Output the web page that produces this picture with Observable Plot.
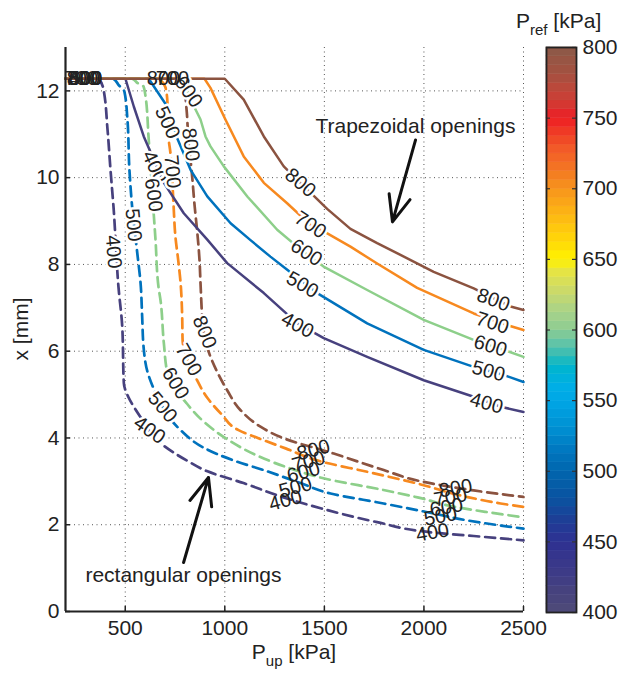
<!DOCTYPE html>
<html>
<head>
<meta charset="utf-8">
<script src="https://cdn.jsdelivr.net/npm/d3@7"></script>
<script src="https://cdn.jsdelivr.net/npm/@observablehq/plot@0.6"></script>
<style>
  body { margin: 0; background: #fff; }
  #wrap { position: relative; width: 620px; height: 675px; font-family: "Liberation Sans", Arial, Helvetica, sans-serif; color: #222; }
  .abs { position: absolute; white-space: nowrap; line-height: 1; }
</style>
</head>
<body>
<div id="wrap">
  <div id="main" class="abs" style="left:0;top:0"></div>
  <div id="cbar" class="abs" style="left:530px;top:0"></div>
  <div class="abs" style="left:0;top:641px;width:588px;text-align:center;font-size:21px;">P<span style="font-size:15px;position:relative;top:7px">up</span> [kPa]</div>
  <div class="abs" style="left:20px;top:329px;font-size:21px;transform:translate(-50%,-50%) rotate(-90deg);">x [mm]</div>
  <div class="abs" style="left:516px;top:10px;font-size:21px;">P<span style="font-size:15px;position:relative;top:7px">ref</span> [kPa]</div>
</div>
<script>
// ---- axes / ticks ----
const xDomain = [200, 2500];
const yDomain = [0, 13];
const xTicks = [500, 1000, 1500, 2000, 2500];
const yTicks = [0, 2, 4, 6, 8, 10, 12];
const cbTicks = [400, 450, 500, 550, 600, 650, 700, 750, 800];

// ---- levels (P_ref) ----
const levels = [400, 500, 600, 700, 800];
const levelColors = ["#47417e", "#0072bd", "#8dcf8a", "#f7891f", "#8b5340"];

// ---- trapezoidal openings (solid) : [P_up, x] ----
const trap400 = [[200,12.28],[501,12.28],[543,11.64],[593,10.95],[694,9.88],[794,9.18],[912,8.57],[1012,8.03],[1196,7.34],[1364,6.64],[1497,6.30],[1715,5.87],[1999,5.33],[2250,4.95],[2385,4.72],[2500,4.60]];
const trap500 = [[200,12.28],[618,12.28],[711,11.64],[761,10.91],[828,10.18],[912,9.57],[1029,8.95],[1129,8.56],[1229,8.18],[1315,7.87],[1464,7.34],[1715,6.64],[1999,6.03],[2250,5.64],[2401,5.45],[2500,5.29]];
const trap600 = [[200,12.28],[788,12.28],[828,11.80],[878,11.34],[903,10.95],[928,10.72],[995,10.26],[1114,9.56],[1263,8.80],[1395,8.29],[1496,7.95],[1715,7.41],[1999,6.72],[2249,6.26],[2400,6.03],[2500,5.87]];
const trap700 = [[200,12.28],[898,12.28],[928,12.07],[1003,11.34],[1095,10.49],[1196,9.88],[1313,9.41],[1430,8.91],[1497,8.76],[1631,8.41],[1765,8.02],[1966,7.46],[2250,6.87],[2418,6.60],[2500,6.49]];
const trap800 = [[200,12.28],[1000,12.28],[1095,11.80],[1196,10.95],[1296,10.26],[1380,9.88],[1514,9.28],[1631,8.82],[1765,8.49],[1882,8.22],[2049,7.83],[2250,7.45],[2435,7.03],[2500,6.95]];

// ---- rectangular openings (dashed) ----
const rect400 = [[200,12.28],[366,12.28],[391,12.03],[411,11.11],[426,10.18],[441,9.33],[466,7.48],[485,6.56],[493,5.26],[515,4.95],[543,4.72],[577,4.48],[677,3.88],[813,3.47],[913,3.23],[1094,2.96],[1295,2.63],[1481,2.38],[1765,2.06],[2048,1.82],[2250,1.74],[2500,1.64]];
const rect500 = [[200,12.28],[441,12.28],[466,12.14],[496,11.98],[511,11.34],[521,10.18],[536,9.26],[562,8.20],[577,7.57],[585,6.80],[592,6.10],[612,5.52],[637,5.20],[677,4.80],[778,4.18],[888,3.79],[1039,3.49],[1214,3.23],[1380,2.96],[1531,2.72],[1797,2.49],[2048,2.26],[2217,2.10],[2500,1.91]];
const rect600 = [[200,12.28],[536,12.28],[562,12.18],[592,12.10],[602,11.87],[617,10.94],[637,9.56],[652,8.57],[667,7.48],[677,7.18],[694,6.18],[712,5.50],[808,4.80],[903,4.34],[1019,3.95],[1169,3.58],[1340,3.28],[1496,3.07],[1797,2.80],[1968,2.63],[2169,2.40],[2319,2.29],[2500,2.17]];
const rect700 = [[200,12.28],[667,12.28],[702,12.08],[712,11.73],[717,10.94],[727,10.57],[742,9.42],[752,8.64],[767,8.06],[778,7.57],[786,6.79],[788,6.26],[813,5.80],[853,5.40],[913,4.92],[983,4.55],[1069,4.18],[1154,4.02],[1305,3.76],[1481,3.46],[1715,3.22],[1966,2.95],[2217,2.64],[2385,2.49],[2500,2.41]];
const rect800 = [[200,12.28],[777,12.28],[798,11.98],[808,11.57],[818,10.81],[833,10.18],[848,9.37],[863,8.68],[873,8.10],[878,7.57],[893,6.49],[913,6.07],[962,5.52],[1012,5.10],[1079,4.64],[1179,4.26],[1280,4.02],[1547,3.64],[1798,3.26],[1966,3.02],[2250,2.79],[2500,2.64]];

// ---- contour labels [value, P_up, x, angle] ----
const isoLabels = [
  [800,1380,9.88,40],[800,2349,7.18,20],
  [700,1430,8.91,33],[700,2344,6.65,18],
  [600,1410,8.27,33],[600,2334,6.12,17],[600,818,11.98,55],
  [500,1390,7.53,30],[500,2324,5.54,15],[500,712,11.27,65],
  [400,1365,6.60,28],[400,2314,4.80,15],[400,647,10.25,65],
  [400,441,8.29,85],[400,622,4.18,35],
  [500,541,8.91,85],[500,687,4.71,50],
  [600,642,9.60,82],[600,752,5.26,58],
  [700,737,10.14,85],[700,818,5.80,60],
  [800,828,10.76,82],[800,898,6.44,68]
];
const clusterLabels = [
  [700,280,12.28,0],[500,300,12.28,0],[600,300,12.28,0],[400,300,12.28,0],[800,290,12.28,0],
  [800,692,12.28,0],[700,737,12.28,0],
  [800,1445,3.72,-15],[700,1420,3.46,-15],[600,1395,3.21,-15],[500,1355,2.86,-15],[400,1305,2.56,-15],
  [800,2159,2.84,-10],[700,2133,2.63,-10],[600,2113,2.40,-10],[500,2083,2.19,-10],[400,2043,1.82,-10]
];

// ---- annotations ----
const notes = [["Trapezoidal openings", 1455, 11.18], ["rectangular openings", 300, 0.83]];
const arrows = [[1958, 10.87, 1842, 8.98], [793, 1.13, 918, 3.09]];

// ---- colour bar colormap ----
const cbStops  = [400,415,430,450,465,480,500,515,530,550,560,575,580,590,600,612,625,640,650,665,680,700,711,728,739,750,758,769,781,800];
const cbColors = ["#4f4b78","#46427e","#3c3a88","#2e3192","#1e3e96","#0a52a0","#0066ae","#0078c0","#0090d2","#00a6e6","#00aee6","#00b6cc","#2bbab8","#5ec3a8","#8dcc92","#a6d38a","#c6d870","#e3e34a","#fff200","#ffd40a","#fdb913","#f7941d","#f47b22","#f25a28","#ef3e25","#ed1c24","#d83530","#c0473a","#a55040","#8b5a48"];

// ---- build tables ----
const trapSeries = [trap400, trap500, trap600, trap700, trap800];
const rectSeries = [rect400, rect500, rect600, rect700, rect800];
const colorOf = v => levelColors[levels.indexOf(v)];
const toRows = (arr, kind) => arr.flatMap((pts, i) => pts.map(([p, x]) => ({p, x, level: levels[i], kind})));
const rectRows = toRows(rectSeries, "rect");
const trapRows = toRows(trapSeries, "trap");
const lab = arr => arr.map(([v, p, x, a]) => ({text: String(v), p, x, a}));

const font = '"Liberation Sans", Arial, Helvetica, sans-serif';
const W = 540, H = 675, mL = 65, mR = 17, mT = 47, mB = 64;
const innerW = W - mL - mR, innerH = H - mT - mB;

const marks = [
  Plot.gridX(xTicks, {stroke: "#555", strokeOpacity: 1, strokeDasharray: "1,3.5", strokeWidth: 1}),
  Plot.gridY(yTicks.filter(d => d > 0), {stroke: "#555", strokeOpacity: 1, strokeDasharray: "1,3.5", strokeWidth: 1}),
];
levels.forEach(v => {
  marks.push(Plot.line(rectRows.filter(d => d.level === v), {x: "p", y: "x", stroke: colorOf(v), strokeWidth: 2.7, strokeDasharray: "10,6", curve: "monotone-y"}));
});
levels.forEach(v => {
  marks.push(Plot.line(trapRows.filter(d => d.level === v), {x: "p", y: "x", stroke: colorOf(v), strokeWidth: 2.5, curve: "linear"}));
});
marks.push(
  Plot.text(lab(isoLabels), {x: "p", y: "x", text: "text", rotate: "a", fontSize: 20, fill: "#222", stroke: "white", strokeWidth: 5, paintOrder: "stroke"}),
  Plot.text(lab(clusterLabels), {x: "p", y: "x", text: "text", rotate: "a", fontSize: 20, fill: "#222"}),
  Plot.text(notes, {x: d => d[1], y: d => d[2], text: d => d[0], textAnchor: "start", fontSize: 21, fill: "#222"}),
  Plot.arrow(arrows, {x1: d => d[0], y1: d => d[1], x2: d => d[2], y2: d => d[3], stroke: "#111", strokeWidth: 3, headLength: 16, headAngle: 45}),
  Plot.tickX(xTicks, {x: d => d, stroke: "#222", strokeWidth: 1.5, insetTop: innerH - 5}),
  Plot.tickY(yTicks, {y: d => d, stroke: "#222", strokeWidth: 1.5, insetRight: innerW - 5}),
  Plot.ruleY([yDomain[0]], {stroke: "#222", strokeWidth: 2.2}),
  Plot.ruleX([xDomain[0]], {stroke: "#222", strokeWidth: 2.2}),
  Plot.axisX({ticks: xTicks, tickFormat: d3.format("d"), tickSize: 0, tickPadding: 9, fontSize: 21, label: null}),
  Plot.axisY({ticks: yTicks, tickFormat: d3.format("d"), tickSize: 0, tickPadding: 6, fontSize: 21, label: null})
);

const main = Plot.plot({
  width: W, height: H, marginLeft: mL, marginRight: mR, marginTop: mT, marginBottom: mB,
  x: {domain: xDomain}, y: {domain: yDomain},
  style: {fontFamily: font, fontSize: "21px", color: "#222", background: "transparent", overflow: "visible"},
  marks
});
document.getElementById("main").append(main);

// ---- colour bar ----
const cscale = d3.scaleLinear().domain(cbStops).range(cbColors);
const nBands = 64;
const step = (cbTicks[cbTicks.length - 1] - cbTicks[0]) / nBands;
const bands = d3.range(nBands).map(i => ({lo: cbTicks[0] + i * step, hi: cbTicks[0] + (i + 1) * step}));
const cbW = 90, cbL = 16, cbR = 44, cbT = 47, cbB = 63;
const cb = Plot.plot({
  width: cbW, height: H, marginLeft: cbL, marginRight: cbR, marginTop: cbT, marginBottom: cbB,
  x: {domain: [0, 1], axis: null},
  y: {domain: [cbTicks[0], cbTicks[cbTicks.length - 1]]},
  style: {fontFamily: font, fontSize: "21px", color: "#222", background: "transparent", overflow: "visible"},
  marks: [
    Plot.rect(bands, {x1: 0, x2: 1, y1: "lo", y2: "hi", fill: d => cscale((d.lo + d.hi) / 2), stroke: d => cscale((d.lo + d.hi) / 2), strokeWidth: 0.5}),
    Plot.tickY(cbTicks, {y: d => d, stroke: "#333", strokeWidth: 1.2, insetRight: 26}),
    Plot.tickY(cbTicks, {y: d => d, stroke: "#333", strokeWidth: 1.2, insetLeft: 26}),
    Plot.frame({stroke: "#222", strokeWidth: 1.8}),
    Plot.axisY({anchor: "right", ticks: cbTicks, tickFormat: d3.format("d"), tickSize: 0, tickPadding: 6, fontSize: 21, label: null})
  ]
});
document.getElementById("cbar").append(cb);
</script>
</body>
</html>
